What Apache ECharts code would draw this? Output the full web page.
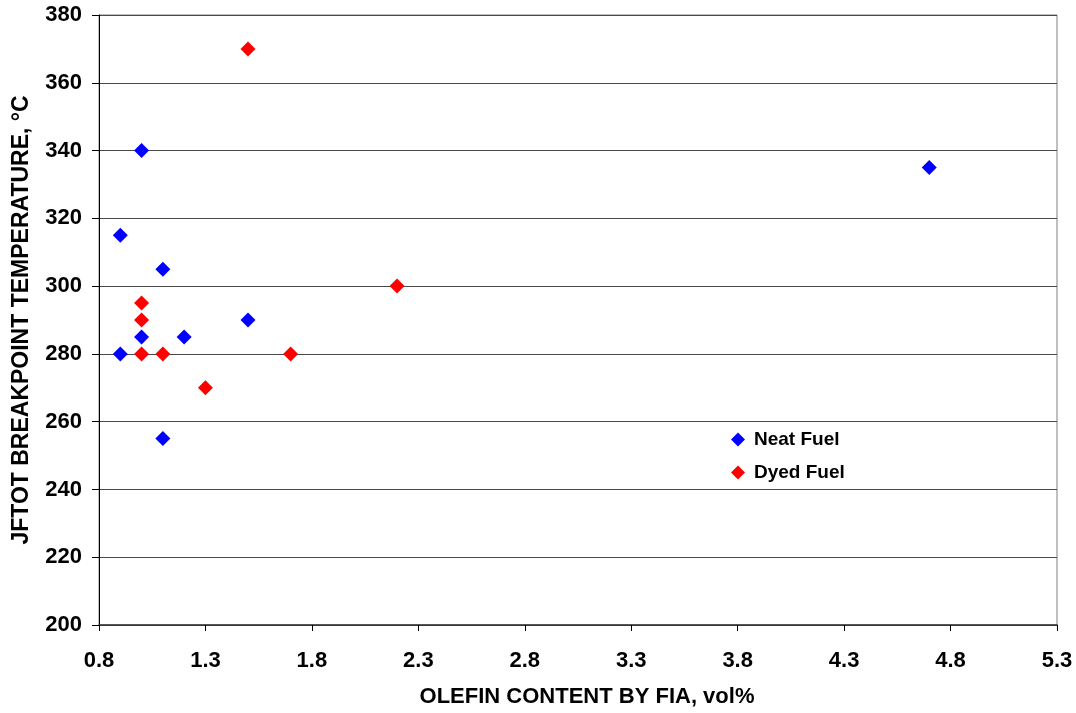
<!DOCTYPE html>
<html>
<head>
<meta charset="utf-8">
<script src="https://cdn.jsdelivr.net/npm/echarts@6/dist/echarts.min.js"></script>
<style>
html,body{margin:0;padding:0;background:#fff;}
#chart{width:1076px;height:713px;}
</style>
</head>
<body>
<div id="chart"></div>
<script>
// Olefin content (vol%) vs JFTOT breakpoint temperature (°C)
const neatOlefin = [0.9, 0.9, 1.0, 1.0, 1.1, 1.1, 1.2, 1.5, 4.7];
const neatTemp   = [315, 280, 340, 285, 305, 255, 285, 290, 335];
const dyedOlefin = [1.5, 1.0, 1.0, 1.0, 1.1, 1.3, 1.7, 2.2];
const dyedTemp   = [370, 295, 290, 280, 280, 270, 280, 300];
const xTicks = ['0.8','1.3','1.8','2.3','2.8','3.3','3.8','4.3','4.8','5.3'];
const seriesNames = ['Neat Fuel', 'Dyed Fuel'];

const pair = (xs, ys) => xs.map((x, i) => [x, ys[i]]);
const font = 'Liberation Sans, Arial, sans-serif';

const chart = echarts.init(document.getElementById('chart'));
chart.setOption({
  animation: false,
  backgroundColor: '#fff',
  grid: { left: 99, top: 15, right: 19, bottom: 85, show: true, borderColor: '#808080', borderWidth: 1, backgroundColor: 'transparent' },
  legend: {
    orient: 'vertical',
    left: 726, top: 425,
    itemWidth: 14, itemHeight: 14, itemGap: 14,
    textStyle: { fontFamily: font, fontWeight: 'bold', fontSize: 19, color: '#000', padding: [0, 0, 0, 4] },
    data: seriesNames.map(n => ({ name: n, icon: 'diamond' }))
  },
  xAxis: {
    type: 'value', min: 0.8, max: 5.3, interval: 0.5,
    name: 'OLEFIN CONTENT BY FIA, vol%', nameLocation: 'middle', nameGap: 61,
    nameTextStyle: { fontFamily: font, fontWeight: 'bold', fontSize: 22, color: '#000', padding: [0, 0, 0, 18] },
    axisLine: { onZero: false, lineStyle: { color: '#333', width: 1.5 } },
    axisTick: { show: true, length: 6, lineStyle: { color: '#000' } },
    splitLine: { show: false },
    axisLabel: { margin: 25, fontFamily: font, fontWeight: 'bold', fontSize: 22, color: '#000',
      formatter: v => xTicks[Math.round((v - 0.8) / 0.5)] ?? v.toFixed(1) }
  },
  yAxis: {
    type: 'value', min: 200, max: 380, interval: 20,
    name: 'JFTOT BREAKPOINT TEMPERATURE, °C', nameLocation: 'middle', nameGap: 66,
    nameTextStyle: { fontFamily: font, fontWeight: 'bold', fontSize: 23, color: '#000' },
    axisLine: { show: true, onZero: false, lineStyle: { color: '#000', width: 1 } },
    axisTick: { show: true, length: 7, lineStyle: { color: '#000' } },
    splitLine: { show: true, lineStyle: { color: '#4a4a4a', width: 1 } },
    axisLabel: { margin: 17, fontFamily: font, fontWeight: 'bold', fontSize: 22, color: '#000' }
  },
  series: [
    { name: seriesNames[0], type: 'scatter', symbol: 'diamond', symbolSize: 15,
      itemStyle: { color: '#0000FF', opacity: 1 }, data: pair(neatOlefin, neatTemp) },
    { name: seriesNames[1], type: 'scatter', symbol: 'diamond', symbolSize: 15,
      itemStyle: { color: '#FF0000', opacity: 1 }, data: pair(dyedOlefin, dyedTemp) }
  ]
});
</script>
</body>
</html>
